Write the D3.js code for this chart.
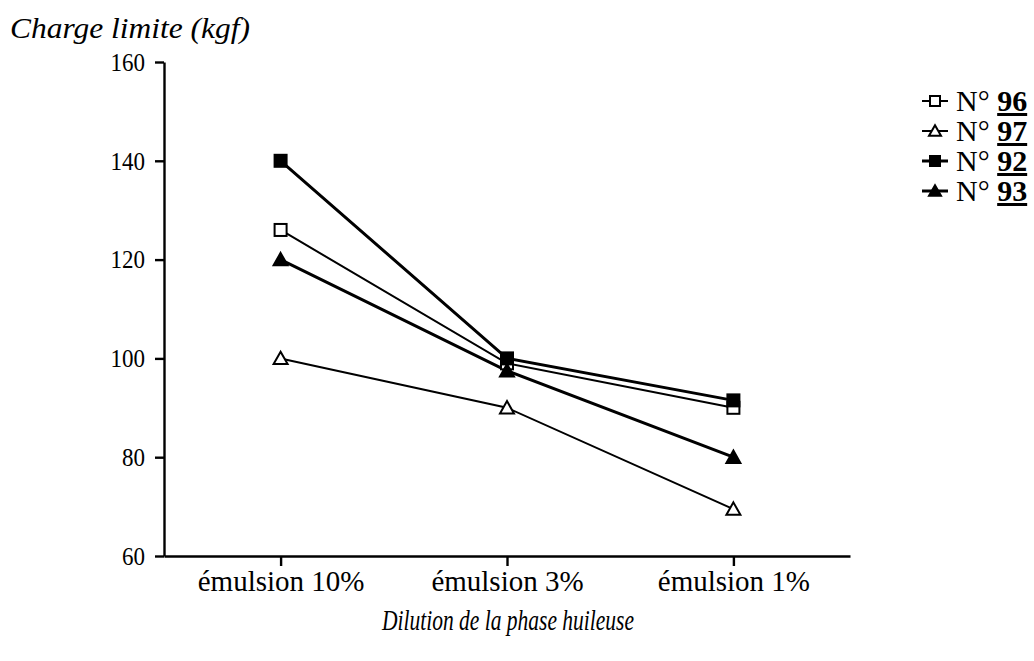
<!DOCTYPE html>
<html>
<head>
<meta charset="utf-8">
<script src="https://cdn.jsdelivr.net/npm/d3@7"></script>
<style>
html,body{margin:0;padding:0;background:#fff;}
svg{display:block;}
text{font-family:"Liberation Serif","Times New Roman",serif;fill:#000;}
</style>
</head>
<body>
<svg id="chart" width="1034" height="661"></svg>
<script>
const categories = ["émulsion 10%", "émulsion 3%", "émulsion 1%"];
const yTicks = [60, 80, 100, 120, 140, 160];
const seriesNames = ["96", "97", "92", "93"];
const values96 = [126, 99, 90];
const values97 = [100, 90, 69.5];
const values92 = [140, 100, 91.5];
const values93 = [120, 97.5, 80];
const markerShapes = ["square", "triangle", "square", "triangle"];
const markerFilled = [false, false, true, true];

const series = [values96, values97, values92, values93].map((v, i) => ({
  name: seriesNames[i], values: v, shape: markerShapes[i], filled: markerFilled[i]
}));

const svg = d3.select("#chart");
const x = d3.scalePoint().domain(categories).range([164, 850]).padding(0.515);
const y = d3.scaleLinear().domain([60, 160]).range([556, 62]);

// axes
const yAxis = svg.append("g").attr("transform", "translate(164,0)")
  .call(d3.axisLeft(y).tickValues(yTicks).tickSize(9).tickSizeOuter(0).tickPadding(10));
const xAxis = svg.append("g").attr("transform", "translate(0,556)")
  .call(d3.axisBottom(x).tickSize(10).tickSizeOuter(0).tickPadding(4));
[yAxis, xAxis].forEach(a => {
  a.attr("font-family", '"Liberation Serif",serif');
  a.select(".domain").attr("stroke", "#000").attr("stroke-width", 2.4);
  a.selectAll(".tick line").attr("stroke", "#000").attr("stroke-width", 2.4);
  a.selectAll(".tick text").attr("fill", "#000");
});
yAxis.attr("font-size", 26);
yAxis.selectAll(".tick text").attr("textLength", d => String(d).length * 11.5).attr("lengthAdjust", "spacingAndGlyphs");
xAxis.attr("font-size", 29);

// titles
svg.append("text").attr("x", 10).attr("y", 38).style("font-size", "29px").style("font-style", "italic")
  .attr("textLength", 240).attr("lengthAdjust", "spacingAndGlyphs")
  .text("Charge limite (kgf)");
svg.append("text").attr("x", x(categories[1]) - 125).attr("y", 630)
  .style("font-size", "30px").style("font-style", "italic")
  .attr("textLength", 252).attr("lengthAdjust", "spacingAndGlyphs")
  .text("Dilution de la phase huileuse");

// lines
const line = d3.line().x((d, i) => x(categories[i])).y(d => y(d));
series.forEach(s => {
  svg.append("path").datum(s.values).attr("d", line).attr("fill", "none")
    .attr("stroke", "#000").attr("stroke-width", s.filled ? 3 : 2);
});

function drawMarker(g, cx, cy, shape, filled, size) {
  if (shape === "square") {
    g.append("rect").attr("x", cx - size / 2).attr("y", cy - size / 2)
      .attr("width", size).attr("height", size)
      .attr("fill", filled ? "#000" : "#fff").attr("stroke", "#000").attr("stroke-width", 2);
  } else {
    const h = size * 0.95;
    g.append("path").attr("d", `M${cx},${cy - h / 2 - 1} L${cx + size / 2 + 1},${cy + h / 2} L${cx - size / 2 - 1},${cy + h / 2} Z`)
      .attr("fill", filled ? "#000" : "#fff").attr("stroke", "#000").attr("stroke-width", 2).attr("stroke-linejoin", "miter");
  }
}

series.forEach(s => {
  const g = svg.append("g");
  s.values.forEach((v, i) => drawMarker(g, x(categories[i]), y(v), s.shape, s.filled, 12));
});

// legend
const legend = svg.append("g");
series.forEach((s, i) => {
  const cy = 101 + i * 30;
  legend.append("line").attr("x1", 922).attr("x2", 948).attr("y1", cy).attr("y2", cy)
    .attr("stroke", "#000").attr("stroke-width", s.filled ? 3 : 2);
  drawMarker(legend, 935, cy, s.shape, s.filled, 10);
  const t = legend.append("text").attr("x", 956).attr("y", cy + 10).style("font-size", "30px");
  t.append("tspan").text("N° ");
  t.append("tspan").style("font-weight", "bold").style("text-decoration", "underline").text(s.name);
});
</script>
</body>
</html>
